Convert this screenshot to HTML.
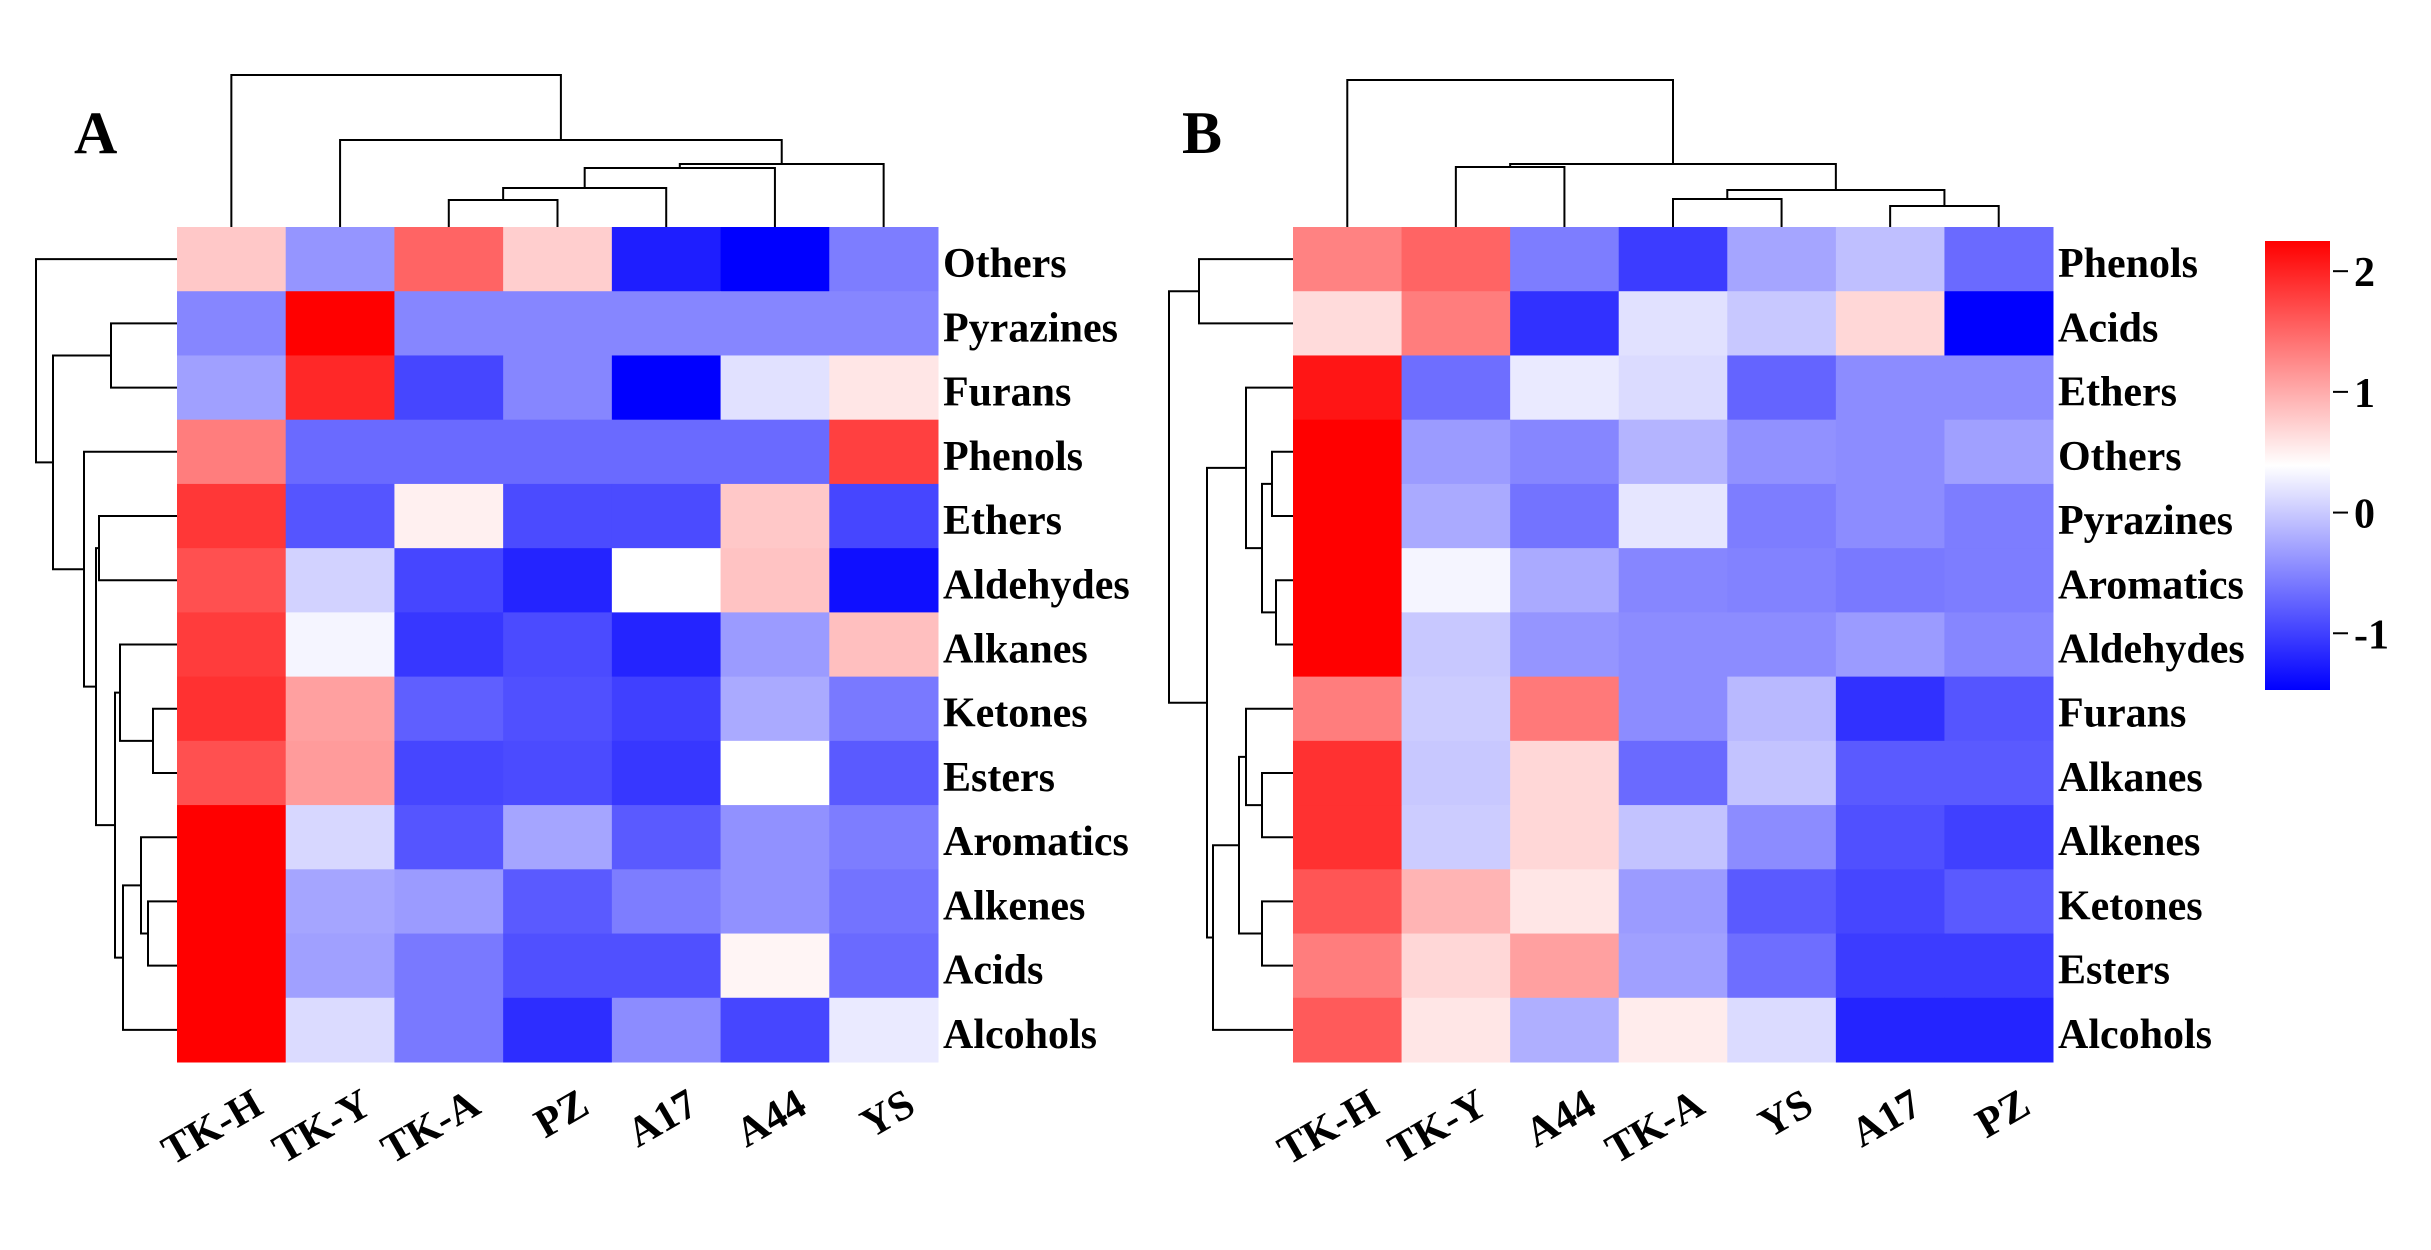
<!DOCTYPE html>
<html><head><meta charset="utf-8"><style>
html,body{margin:0;padding:0;background:#fff;}
svg{display:block;}
text{font-family:"Liberation Serif",serif;font-weight:bold;fill:#000;}
</style></head><body>
<svg id="chart" width="2431" height="1250" viewBox="0 0 2431 1250" xmlns="http://www.w3.org/2000/svg">
<text x="74" y="153" font-size="60">A</text>
<text x="1182" y="153" font-size="60">B</text>
<defs><linearGradient id="cbg" x1="0" y1="1" x2="0" y2="0">
<stop offset="0" stop-color="#0000ff"/><stop offset="0.5" stop-color="#ffffff"/><stop offset="1" stop-color="#ff0000"/></linearGradient></defs>
<g id="colorbar"></g>
</svg>
<script>
const VMIN=-1.47, VMAX=2.25;
const colsA=["TK-H","TK-Y","TK-A","PZ","A17","A44","YS"];
const rowsA=["Others","Pyrazines","Furans","Phenols","Ethers","Aldehydes","Alkanes","Ketones","Esters","Aromatics","Alkenes","Acids","Alcohols"];
const valuesA=[
[0.79,-0.38,1.52,0.75,-1.25,-1.47,-0.56],
[-0.49,2.25,-0.49,-0.49,-0.49,-0.49,-0.49],
[-0.30,1.96,-0.96,-0.49,-1.47,0.17,0.57],
[1.34,-0.70,-0.70,-0.70,-0.70,-0.70,1.78],
[1.85,-0.85,0.50,-0.92,-0.92,0.79,-0.96],
[1.67,0.06,-0.96,-1.21,0.39,0.83,-1.36],
[1.81,0.32,-1.07,-0.92,-1.21,-0.34,0.86],
[1.89,1.08,-0.78,-0.89,-1.00,-0.23,-0.59],
[1.67,1.12,-0.96,-0.92,-1.07,0.39,-0.81],
[2.25,0.10,-0.85,-0.27,-0.81,-0.41,-0.56],
[2.25,-0.27,-0.34,-0.81,-0.56,-0.41,-0.63],
[2.25,-0.30,-0.59,-0.89,-0.89,0.46,-0.70],
[2.25,0.13,-0.59,-1.14,-0.45,-0.96,0.24]];
const colsB=["TK-H","TK-Y","A44","TK-A","YS","A17","PZ"];
const rowsB=["Phenols","Acids","Ethers","Others","Pyrazines","Aromatics","Aldehydes","Furans","Alkanes","Alkenes","Ketones","Esters","Alcohols"];
const valuesB=[
[1.30,1.52,-0.56,-1.03,-0.27,-0.08,-0.70],
[0.65,1.34,-1.11,0.17,-0.01,0.68,-1.47],
[2.10,-0.67,0.24,0.13,-0.74,-0.45,-0.45],
[2.25,-0.34,-0.49,-0.16,-0.41,-0.45,-0.30],
[2.25,-0.23,-0.63,0.21,-0.56,-0.45,-0.56],
[2.25,0.32,-0.23,-0.49,-0.52,-0.59,-0.56],
[2.25,-0.01,-0.38,-0.45,-0.45,-0.34,-0.49],
[1.34,0.02,1.37,-0.45,-0.12,-1.11,-0.85],
[1.89,-0.01,0.68,-0.70,-0.05,-0.81,-0.81],
[1.89,0.02,0.68,-0.05,-0.45,-0.89,-1.00],
[1.63,0.94,0.57,-0.34,-0.81,-0.96,-0.81],
[1.34,0.68,1.08,-0.30,-0.67,-1.03,-1.03],
[1.59,0.57,-0.19,0.53,0.13,-1.21,-1.21]];
// dendrogram merges: [left, right, height]
const colLinkA=[[2,3,27],[7,4,39],[8,5,59],[9,6,63],[1,10,87],[0,11,152]];
const rowLinkA=[[1,2,66],[4,5,78],[7,8,24],[6,15,57],[10,11,29],[9,17,36],[18,12,54],[16,19,62],[14,20,81],[3,21,93],[13,22,124],[0,23,141]];
const colLinkB=[[5,6,21],[3,4,28],[8,7,37],[1,2,60],[10,9,63],[0,11,147]];
const rowLinkB=[[0,1,94],[3,4,21],[5,6,17],[14,15,31],[2,16,47],[8,9,31],[7,18,47],[10,11,31],[19,20,54],[21,12,80],[17,22,86],[13,23,124]];
const cbTicks=[2,1,0,-1];

const NS="http://www.w3.org/2000/svg";
const svg=document.getElementById('chart');
function mk(tag,attrs,parent){const e=document.createElementNS(NS,tag);for(const k in attrs)e.setAttribute(k,attrs[k]);(parent||svg).appendChild(e);return e;}
function color(v){let t=(v-VMIN)/(VMAX-VMIN);t=Math.max(0,Math.min(1,t));
 if(t<0.5){const c=Math.round(2*t*255);return `rgb(${c},${c},255)`;}
 const c=Math.round((1-t)*2*255);return `rgb(255,${c},${c})`;}
const TOP=227,BOT=1062,CH=(BOT-TOP)/13;
function panel(id,x0,x1,cols,rows,vals,colLink,rowLink){
 const g=mk('g',{});
 
 
 const cw=(x1-x0)/cols.length;
 const cx=i=>x0+cw*(i+0.5), ry=i=>TOP+CH*(i+0.5);
 vals.forEach((row,r)=>row.forEach((v,c)=>{
  const e=mk('rect',{x:x0+cw*c,y:TOP+CH*r,width:cw+0.5,height:CH+0.5,fill:color(v)},g);
  
  
 }));
 rows.forEach((n,r)=>{const t=mk('text',{x:x1+5,y:ry(r)+18,'font-size':42},g);t.textContent=n;
  
  });
 cols.forEach((n,c)=>{const t=mk('text',{x:0,y:0,'font-size':42,'text-anchor':'end',transform:`translate(${cx(c)+34},${BOT+50}) rotate(-30)`},g);t.textContent=n;
  
  });
 let pos=cols.map((_,i)=>cx(i)), hh=cols.map(()=>0);
 let d='';
 colLink.forEach(([a,b,h])=>{const ya=TOP-hh[a],yb=TOP-hh[b],y=TOP-h;
  d+=`M${pos[a]},${ya}V${y}H${pos[b]}V${yb}`;pos.push((pos[a]+pos[b])/2);hh.push(h);});
 const p1=mk('path',{d:d,fill:'none',stroke:'#000','stroke-width':2},g);
 
 
 pos=rows.map((_,i)=>ry(i)); hh=rows.map(()=>0); d='';
 rowLink.forEach(([a,b,h])=>{const xa=x0-hh[a],xb=x0-hh[b],x=x0-h;
  d+=`M${xa},${pos[a]}H${x}V${pos[b]}H${xb}`;pos.push((pos[a]+pos[b])/2);hh.push(h);});
 const p2=mk('path',{d:d,fill:'none',stroke:'#000','stroke-width':2},g);
 
 
}
panel('a',177,938,colsA,rowsA,valuesA,colLinkA,rowLinkA);
panel('b',1293,2053,colsB,rowsB,valuesB,colLinkB,rowLinkB);
const cb=document.getElementById('colorbar');
const CBT=241,CBB=690,CBX=2265,CBW=65;
const cy=v=>CBB-(v-VMIN)/(VMAX-VMIN)*(CBB-CBT);
const cr=mk('rect',{x:CBX,y:CBT,width:CBW,height:CBB-CBT,fill:'url(#cbg)'},cb);


cbTicks.forEach(v=>{
 const l=mk('line',{x1:CBX+CBW+3,x2:CBX+CBW+18,y1:cy(v),y2:cy(v),stroke:'#000','stroke-width':2},cb);
 
 
 const t=mk('text',{x:CBX+CBW+24,y:cy(v)+15,'font-size':42},cb);t.textContent=String(v);
 
 
});
</script>
</body></html>
